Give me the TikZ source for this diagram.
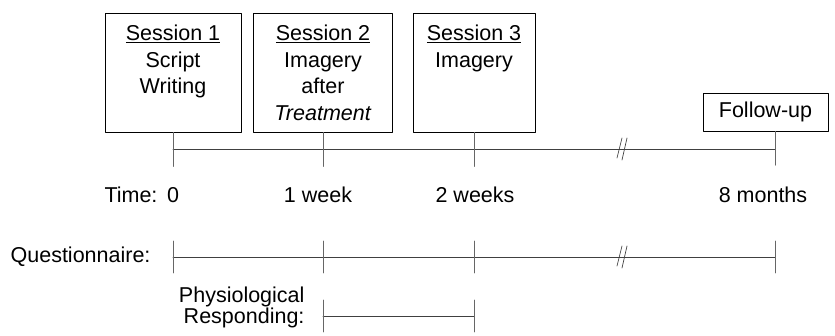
\documentclass[tikz,border=0pt]{standalone}
\usepackage{fontspec}
\setmainfont{Liberation Sans}
\usetikzlibrary{positioning}
\begin{document}
\begin{tikzpicture}[x=1pt, y=-1pt, line join=round, line cap=round,
    font=\fontsize{21.5}{26.5}\selectfont,
    sessbox/.style={draw, thin, anchor=north, inner sep=0pt},
    axis/.style={draw=black!75, line width=0.7pt},
    tickmark/.style={draw=black!60, line width=0.8pt}]
  \useasboundingbox (0,0) rectangle (835,335);
  \def\hb{119} % box height
  % sessions
  \node[sessbox] (s1) at (173,13)
    {\parbox[t][\hb pt][t]{136pt}{\centering\rule{0pt}{27.5pt}\underline{Session 1}\\Script\\Writing}};
  \node[sessbox] (s2) at (323,13)
    {\parbox[t][\hb pt][t]{139pt}{\centering\rule{0pt}{27.5pt}\underline{Session 2}\\Imagery\\after\\\emph{Treatment}}};
  \node[sessbox] (s3) at (474,13)
    {\parbox[t][\hb pt][t]{122pt}{\centering\rule{0pt}{27.5pt}\underline{Session 3}\\Imagery}};
  \node[draw, thin, minimum width=125pt, minimum height=38pt] (fu) at (765.5,112) {Follow-up};
  % time axis
  \foreach \n/\x in {1/173,2/323,3/474,4/775}{
    \coordinate (t\n) at (\x,149);
    \coordinate (q\n) at (\x,257);
  }
  \draw[axis] (t1) -- (t4);
  \foreach \n in {1,2,3}
    \draw[tickmark] (s\n.south -| t\n) -- ++(0,34);
  \draw[tickmark] (fu.south -| t4) -- ++(0,34);
  \draw[axis, shift={(622,149)}] (-5,9) -- (0,-11) (0,11) -- (5,-11);
  % time labels
  \node[anchor=base east] (tl) at (161,202.5) {Time:};
  \foreach \n/\x/\txt in {1/173/0,2/318/1 week,3/475/2 weeks,4/763/8 months}
    \node[anchor=base] (tx\n) at (\x,202.5) {\txt};
  % questionnaire
  \node[anchor=east] (ql) at (154,257) {Questionnaire:};
  \draw[axis] (q1) -- (q4);
  \foreach \n in {1,2,3,4}
    \draw[tickmark] (q\n) ++(0,-16) -- ++(0,32);
  \draw[axis, shift={(622,257)}] (-5,9) -- (0,-11) (0,11) -- (5,-11);
  % physiological
  \coordinate (p1) at (323,316);
  \coordinate (p2) at (474,316);
  \node[anchor=east, align=right, font=\fontsize{21.5}{21}\selectfont] (pl) at (308,307.5)
    {Physiological\\Responding:};
  \draw[axis] (p1) -- (p2);
  \foreach \n in {1,2}
    \draw[tickmark] (p\n) ++(0,-16) -- ++(0,32);
\end{tikzpicture}
\end{document}
